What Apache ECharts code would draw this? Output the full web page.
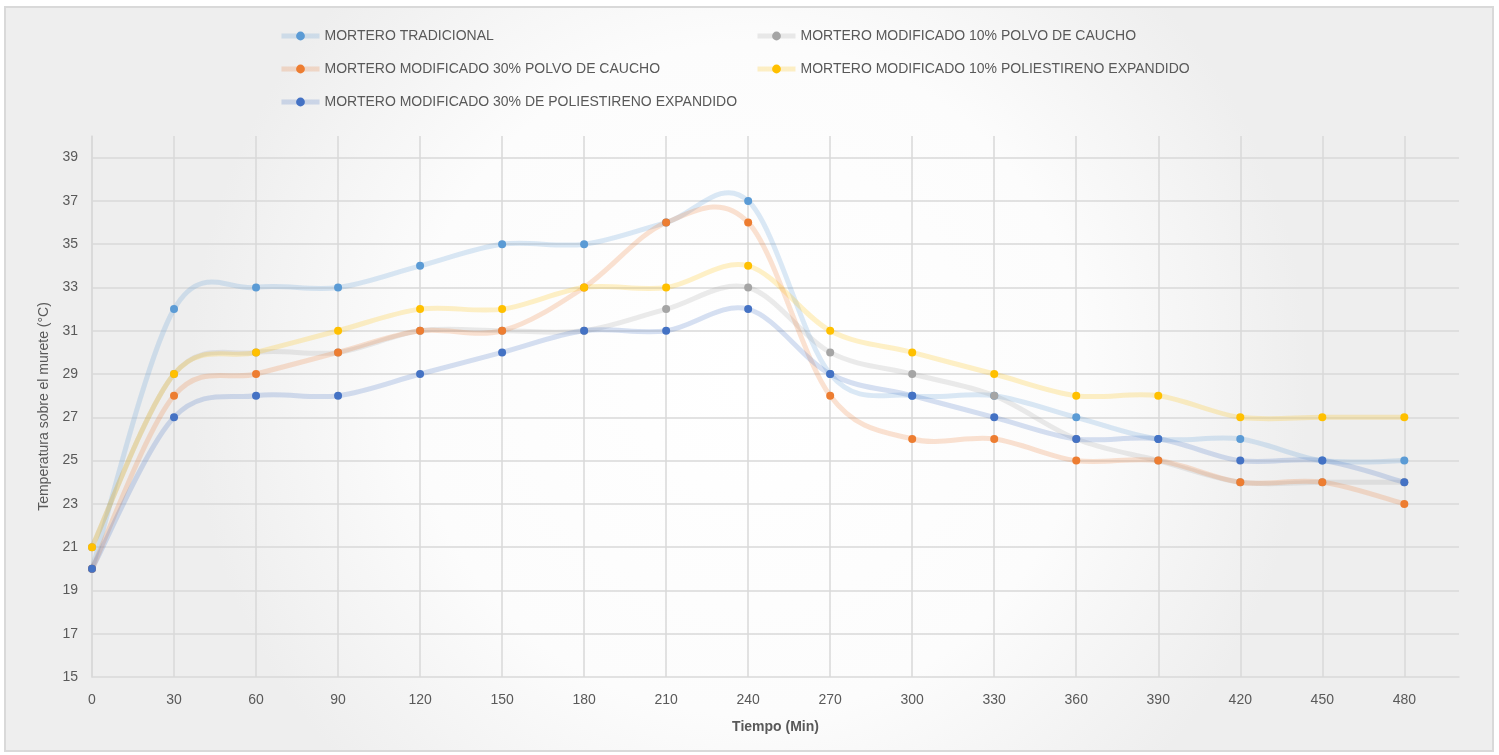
<!DOCTYPE html>
<html>
<head>
<meta charset="utf-8">
<script src="https://cdn.jsdelivr.net/npm/echarts@6/dist/echarts.min.js"></script>
<style>
  html, body { margin: 0; padding: 0; background: #ffffff; }
  #chart { width: 1499px; height: 755px; }
</style>
</head>
<body>
<div id="chart"></div>
<script>
// Tiempo (min)
const tiempos = [0, 30, 60, 90, 120, 150, 180, 210, 240, 270, 300, 330, 360, 390, 420, 450, 480];

// Temperatura sobre el murete (°C) por tipo de mortero
const morteroTradicional   = [20, 32, 33, 33, 34, 35, 35, 36, 37, 29, 28, 28, 27, 26, 26, 25, 25];
const caucho10             = [21, 29, 30, 30, 31, 31, 31, 32, 33, 30, 29, 28, 26, 25, 24, 24, 24];
const caucho30             = [20, 28, 29, 30, 31, 31, 33, 36, 36, 28, 26, 26, 25, 25, 24, 24, 23];
const poliestireno10       = [21, 29, 30, 31, 32, 32, 33, 33, 34, 31, 30, 29, 28, 28, 27, 27, 27];
const poliestireno30       = [20, 27, 28, 28, 29, 30, 31, 31, 32, 29, 28, 27, 26, 26, 25, 25, 24];

const nombres = [
  'MORTERO TRADICIONAL',
  'MORTERO MODIFICADO 10% POLVO DE CAUCHO',
  'MORTERO MODIFICADO 30% POLVO DE CAUCHO',
  'MORTERO MODIFICADO 10% POLIESTIRENO EXPANDIDO',
  'MORTERO MODIFICADO 30% DE POLIESTIRENO EXPANDIDO'
];
const valores = [morteroTradicional, caucho10, caucho30, poliestireno10, poliestireno30];
const colores = ['#5B9BD5', '#A5A5A5', '#ED7D31', '#FFC000', '#4472C4'];

const FONT = '"Liberation Sans", Arial, sans-serif';
const TEXT = '#595959';
const GRID = '#d9d9d9';
const LINE_W = 5;
const LINE_ALPHA = 0.22;

// Smooth curve through the points (Catmull-Rom as cubic Bezier segments),
// positioned with the grid's coordinate system.
function curveRenderer(idx) {
  return function (params, api) {
    const ys = valores[idx];
    const pts = tiempos.map((t, k) => api.coord([t, ys[k]]));
    const n = pts.length;
    const children = [];
    for (let k = 0; k < n - 1; k++) {
      const p0 = pts[Math.max(k - 1, 0)];
      const p1 = pts[k];
      const p2 = pts[k + 1];
      const p3 = pts[Math.min(k + 2, n - 1)];
      children.push({
        type: 'bezierCurve',
        shape: {
          x1: p1[0], y1: p1[1],
          cpx1: p1[0] + (p2[0] - p0[0]) / 6, cpy1: p1[1] + (p2[1] - p0[1]) / 6,
          cpx2: p2[0] - (p3[0] - p1[0]) / 6, cpy2: p2[1] - (p3[1] - p1[1]) / 6,
          x2: p2[0], y2: p2[1]
        },
        style: { stroke: colores[idx], lineWidth: LINE_W, fill: null, opacity: LINE_ALPHA, lineCap: 'round' }
      });
    }
    return { type: 'group', children: children };
  };
}

const series = [];
nombres.forEach((n, i) => {
  series.push({
    name: n,
    type: 'line',
    data: tiempos.map((t, k) => [t, valores[i][k]]),
    symbol: 'circle',
    symbolSize: 8,
    itemStyle: { color: colores[i] },
    lineStyle: { color: colores[i], width: 0, opacity: 0 },
    emphasis: { disabled: true },
    z: 4
  });
});
nombres.forEach((n, i) => {
  series.push({
    name: n,
    type: 'custom',
    data: [[0, 0]],
    renderItem: curveRenderer(i),
    silent: true,
    z: 2
  });
});

const legendBase = {
  orient: 'vertical',
  padding: 0,
  itemWidth: 38,
  itemHeight: 11,
  itemGap: 19,
  lineStyle: { width: LINE_W, opacity: LINE_ALPHA },
  textStyle: { fontFamily: FONT, fontSize: 14, color: TEXT, lineHeight: 14 }
};

const chart = echarts.init(document.getElementById('chart'), null, { renderer: 'canvas' });

chart.setOption({
  animation: false,
  backgroundColor: 'transparent',
  graphic: [{
    type: 'rect',
    z: -10,
    silent: true,
    shape: { x: 5, y: 7, width: 1488, height: 744 },
    style: {
      fill: new echarts.graphic.RadialGradient(0.5, 0.5, 0.75, [
        { offset: 0, color: '#ffffff' },
        { offset: 0.6, color: '#fcfcfc' },
        { offset: 1, color: '#eeeeee' }
      ]),
      stroke: '#d9d9d9',
      lineWidth: 2
    }
  }],
  legend: [
    Object.assign({}, legendBase, { left: 279, top: 29, data: [nombres[0], nombres[2], nombres[4]] }),
    Object.assign({}, legendBase, { left: 755, top: 29, data: [nombres[1], nombres[3]] })
  ],
  grid: { left: 92, right: 40, top: 136, bottom: 78 },
  xAxis: {
    type: 'value',
    min: 0,
    max: 500,
    interval: 30,
    name: 'Tiempo (Min)',
    nameLocation: 'middle',
    nameGap: 43,
    nameTextStyle: { fontFamily: FONT, fontSize: 14, fontWeight: 'bold', color: TEXT },
    axisLine: { show: true, lineStyle: { color: GRID, width: 1.5 } },
    axisTick: { show: false },
    axisLabel: { fontFamily: FONT, fontSize: 14, color: TEXT, margin: 16, showMaxLabel: false },
    splitLine: { show: true, showMaxLine: false, lineStyle: { color: GRID, width: 1.5 } }
  },
  yAxis: {
    type: 'value',
    min: 15,
    max: 40,
    interval: 2,
    name: 'Temperatura sobre el murete (°C)',
    nameLocation: 'middle',
    nameGap: 38,
    nameTextStyle: { fontFamily: FONT, fontSize: 14, color: TEXT },
    axisLine: { show: true, lineStyle: { color: GRID, width: 1.5 } },
    axisTick: { show: false },
    axisLabel: { fontFamily: FONT, fontSize: 14, color: TEXT, margin: 14, showMaxLabel: false },
    splitLine: { show: true, showMaxLine: false, showMinLine: false, lineStyle: { color: GRID, width: 1.5 } }
  },
  series: series
});
</script>
</body>
</html>
